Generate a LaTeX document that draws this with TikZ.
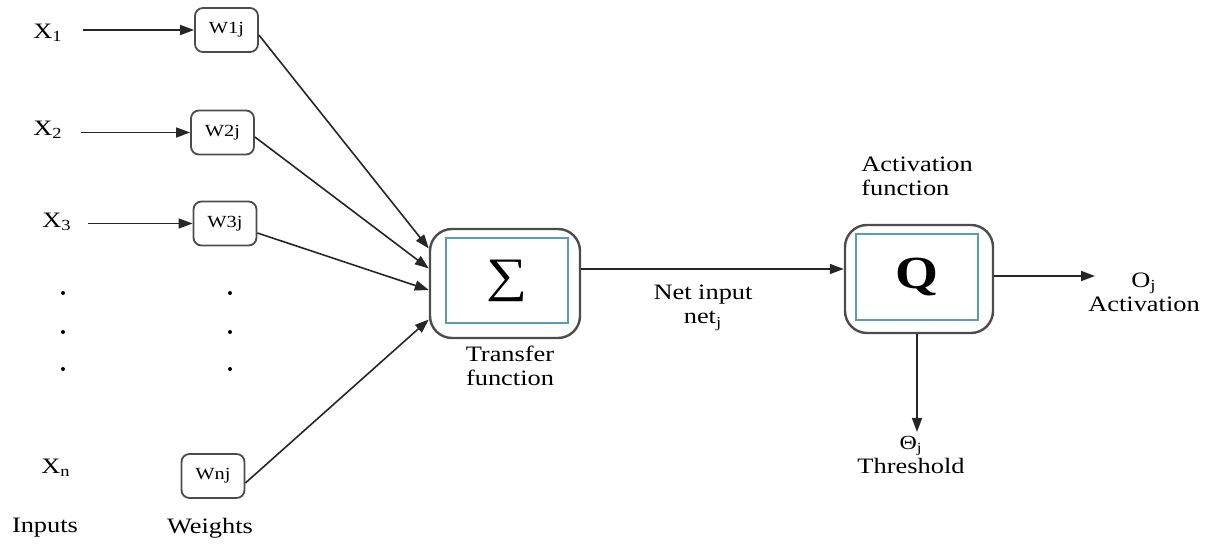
\documentclass[tikz,border=0pt]{standalone}
\usepackage{fontspec}
\setmainfont{Liberation Serif}[FakeStretch=1.2]
\usetikzlibrary{arrows.meta}
\definecolor{boxteal}{RGB}{88,158,178}
\begin{document}
\begin{tikzpicture}[x=0.5pt,y=-0.5pt,
  lbl/.style={inner sep=0pt, font=\fontsize{11}{12}\selectfont},
  wbox/.style={draw=black!70, line width=0.9pt, rounded corners=4pt,
    minimum width=31.5pt, minimum height=22pt, inner sep=0pt,
    font=\fontsize{8.5}{9}\selectfont},
  outerbox/.style={draw=black!70, line width=1.2pt, rounded corners=11pt,
    inner sep=0pt},
  innerbox/.style={draw=boxteal, line width=0.9pt, inner sep=0pt},
  conn/.style={line width=0.8pt, black!85},
  arr/.style={conn, -{Triangle[length=7pt,width=5pt]}},
  dot/.style={circle, fill=black, inner sep=0pt, minimum size=2pt}]
\useasboundingbox (0,0) rectangle (1215,544);

% inputs
\node[lbl] (x1) at (48,33) {X\textsubscript{1}};
\node[lbl] (x2) at (48,130) {X\textsubscript{2}};
\node[lbl] (x3) at (57,222) {X\textsubscript{3}};
\node[lbl] (xn) at (56,468) {X\textsubscript{n}};
\node[lbl] (inp) at (45,528) {Inputs};

% weights
\node[wbox] (w1) at (226.5,30) {\raisebox{2pt}{W1j}};
\node[wbox] (w2) at (222.5,132.5) {W2j};
\node[wbox] (w3) at (225,223.5) {W3j};
\node[wbox] (wn) at (213,476) {Wnj};
\node[lbl] (wts) at (210,528) {Weights};

% ellipsis dots
\foreach \yy [count=\i] in {293,332,369} {
  \node[dot] (dx\i) at (63,\yy) {};
  \node[dot] (dw\i) at (230,\yy) {};
}

% summation unit
\node[outerbox, minimum width=75pt, minimum height=54.5pt] (sig) at (505,283.5) {};
\node[innerbox, minimum width=61pt, minimum height=42.5pt] (sigin) at (507,280.5)
  {\fontsize{24}{24}\selectfont ∑};
\node[lbl, align=center] (tf) at (510,366) {Transfer\\function};

% activation unit
\node[outerbox, minimum width=74pt, minimum height=54pt] (q) at (919,279) {};
\node[innerbox, minimum width=61pt, minimum height=43pt] (qin) at (917,277)
  {\fontsize{23}{23}\selectfont\bfseries Q};
\node[lbl, align=left, anchor=west] (af) at (861,176) {Activation\\function};

\node[lbl, align=center] (net) at (703,308) {Net input\\net\textsubscript{j}};
\node[lbl, align=center] (out) at (1144,292) {O\textsubscript{j}\\Activation};
\node[lbl, align=center] (thr) at (911,455) {\fontsize{10}{11}\selectfont Θ\textsubscript{j}\\Threshold};

% input arrows
\draw[arr] ([xshift=10pt]x1.east |- w1.west) -- (w1.west);
\draw[arr] ([xshift=9pt]x2.east |- w2.west) -- (w2.west);
\draw[arr] ([xshift=8pt]x3.east |- w3.west) -- (w3.west);

% weighted inputs into the summation
\draw[arr] ([yshift=-2.5pt]w1.east) -- ([yshift=17.5pt]sig.west);
\draw[arr] ([yshift=-2.25pt]w2.east) -- ([yshift=7.5pt]sig.west);
\draw[arr] ([yshift=-4.75pt]w3.east) -- ([yshift=-3.25pt]sig.west);
\draw[arr] ([yshift=-3.5pt]wn.east) -- ([yshift=-18pt]sig.west);

% net input to activation
\coordinate (netstart) at ([yshift=7.25pt]sig.east);
\draw[arr] (netstart) -- (q.west |- netstart);

% output and threshold
\coordinate (oend) at (1095,276);
\draw[arr] (q.east |- oend) -- (oend);
\coordinate (tend) at (917,432);
\draw[arr] (q.south -| tend) -- (tend);
\end{tikzpicture}
\end{document}
